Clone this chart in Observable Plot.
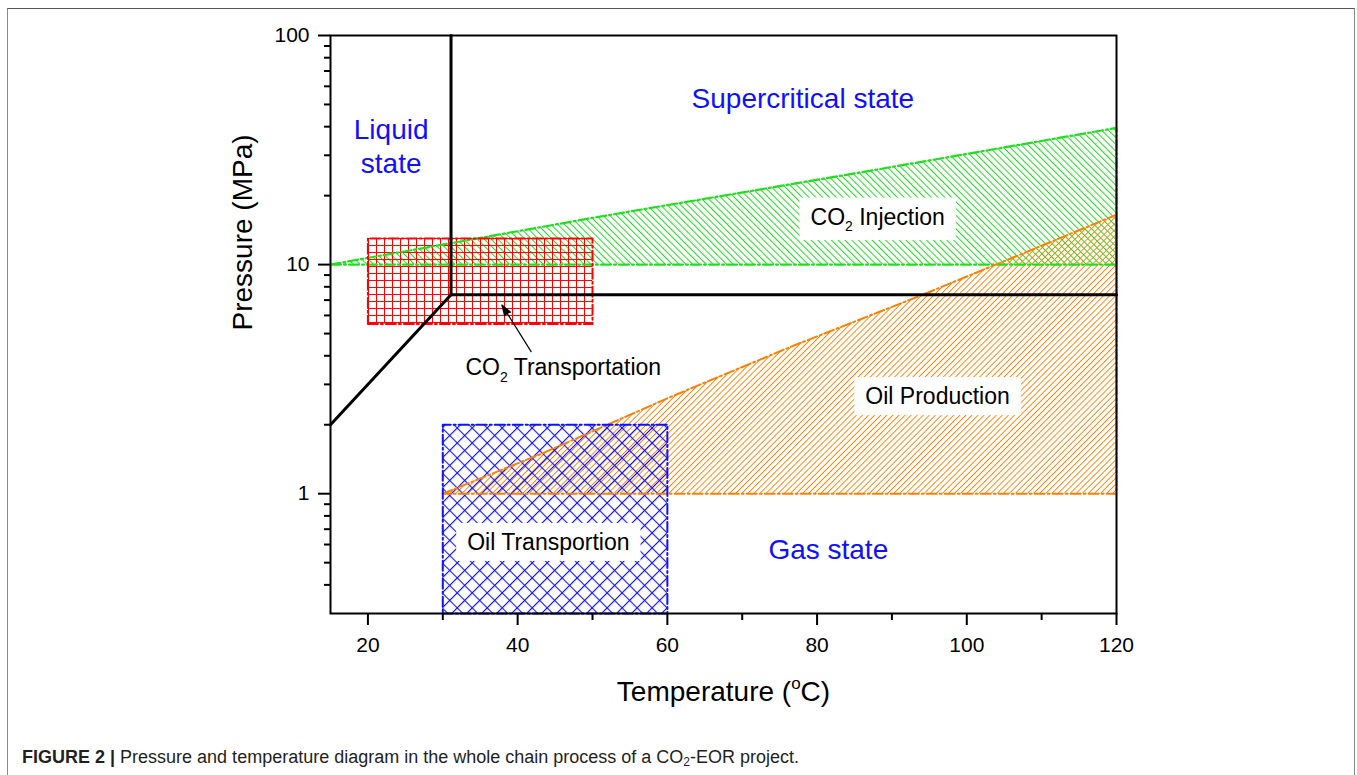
<!DOCTYPE html>
<html>
<head>
<meta charset="utf-8">
<script src="https://cdn.jsdelivr.net/npm/d3@7"></script>
<script src="https://cdn.jsdelivr.net/npm/@observablehq/plot@0.6"></script>
<style>
  html, body { margin: 0; padding: 0; background: #fff; overflow: hidden; }
  #fig { position: relative; width: 1357px; height: 775px; }
  #border { position: absolute; left: 7px; top: 8px; width: 1348px; height: 800px; border: 1px solid #8a8a8a; border-top-color: #555; box-sizing: border-box; }
  #chart { position: absolute; left: 0; top: 0; }
  #caption { position: absolute; left: 22px; top: 747px; white-space: nowrap; line-height: 20px;
    font-family: "Liberation Sans Narrow", "Arial Narrow", "Liberation Sans", Arial, sans-serif; font-size: 18px; color: #231f20; }
  #caption sub { font-size: 12px; vertical-align: -3px; line-height: 0; }
</style>
</head>
<body>
<div id="fig">
  <div id="border"></div>
  <div id="chart"></div>
  <div id="caption"><b>FIGURE 2 |</b> Pressure and temperature diagram in the whole chain process of a CO<sub>2</sub>-EOR project.</div>
</div>
<script>
// ---------- data ----------
const tempDomain = [15, 120];
const pressureDomain = [0.3, 100];
const xMajorTicks = [20, 40, 60, 80, 100, 120];
const xMinorTicks = [30, 50, 70, 90, 110];
const yMajorTicks = [1, 10, 100];
const yMinorTicks = [0.4, 0.5, 0.6, 0.7, 0.8, 0.9, 2, 3, 4, 5, 6, 7, 8, 9, 20, 30, 40, 50, 60, 70, 80, 90];

// CO2 injection band (green hatched)
const injT      = [15, 51, 85, 120];
const injTop    = [10, 16.2, 25, 39.5];
const injBottom = [10, 10, 10, 10];

// Oil production band (orange hatched)
const prodT      = [30, 43.3, 60.5, 76.5, 93.4, 103.2, 120];
const prodTop    = [1, 1.5, 2.65, 4.38, 7.23, 9.79, 16.5];
const prodBottom = [1, 1, 1, 1, 1, 1, 1];

// CO2 transportation box (red grid) and oil transportation box (blue cross-hatch)
const co2TransT = [20, 50];
const co2TransP = [5.5, 13];
const oilTransT = [30, 60];
const oilTransP = [0.3, 2];

// CO2 phase boundaries (critical point 31.1 °C, 7.38 MPa)
const vapourT = [15, 31.1];
const vapourP = [2, 7.38];
const isothermT = [31.1, 31.1];
const isothermP = [7.38, 100];
const isobarT = [31.1, 120];
const isobarP = [7.38, 7.38];

// arrow to the CO2 transportation box
const arrowFrom = [41.8, 4.17];
const arrowTo   = [37.9, 6.66];

// region labels
const stateLabels = ["Supercritical state", "Liquid\nstate", "Gas state"];
const stateT = [78.1, 23.1, 81.5];
const stateP = [53.7, 33.2, 0.576];

const boxedLabels = ["CO2 Injection", "Oil Production", "Oil Transportion"];
const boxedT = [88.1, 96.1, 44.1];
const boxedP = [16.1, 2.65, 0.612];

const plainLabels = ["CO2 Transportation"];
const plainT = [46.1];
const plainP = [3.54];

const xTitle = "Temperature (°C)";
const yTitle = "Pressure (MPa)";

// ---------- build tables ----------
const injData = injT.map((t, i) => ({t, lo: injBottom[i], hi: injTop[i]}));
const prodData = prodT.map((t, i) => ({t, lo: prodBottom[i], hi: prodTop[i]}));
const outline = (T, top, bottom) => [
  ...T.map((t, i) => ({t, p: top[i]})),
  ...T.map((t, i) => ({t, p: bottom[i]})).reverse()
];
const injOutline = outline(injT, injTop, injBottom);
const prodOutline = outline(prodT, prodTop, prodBottom);
const boxOutline = (T, P) => [
  {t: T[0], p: P[0]}, {t: T[1], p: P[0]}, {t: T[1], p: P[1]}, {t: T[0], p: P[1]}, {t: T[0], p: P[0]}
];
const phaseLines = [
  ...vapourT.map((t, i) => ({seg: "v", t, p: vapourP[i]})),
  ...isothermT.map((t, i) => ({seg: "t", t, p: isothermP[i]})),
  ...isobarT.map((t, i) => ({seg: "b", t, p: isobarP[i]}))
];
const stateData = stateLabels.map((s, i) => ({s, t: stateT[i], p: stateP[i]}));
const boxedData = boxedLabels.map((s, i) => ({s, t: boxedT[i], p: boxedP[i]}));
const plainData = plainLabels.map((s, i) => ({s, t: plainT[i], p: plainP[i]}));

const GREEN = "#22dd22", ORANGE = "#ff8000", RED = "#ff0000", BLUE = "#1010ff";
const FONT = "Arial, 'Liberation Sans', Helvetica, sans-serif";
const dash = "10,3,2,3";

const svg = Plot.plot({
  width: 1357,
  height: 740,
  marginLeft: 330,
  marginRight: 241,
  marginTop: 35,
  marginBottom: 127,
  style: {fontFamily: FONT, fontSize: "21px", color: "black", background: "transparent", overflow: "visible"},
  x: {domain: tempDomain},
  y: {type: "log", domain: pressureDomain},
  marks: [
    Plot.areaY(injData, {x: "t", y1: "lo", y2: "hi", fill: "url(#ptnGreen)"}),
    Plot.areaY(prodData, {x: "t", y1: "lo", y2: "hi", fill: "url(#ptnOrange)"}),
    Plot.rect([0], {x1: () => co2TransT[0], x2: () => co2TransT[1], y1: () => co2TransP[0], y2: () => co2TransP[1], fill: "url(#ptnRed)"}),
    Plot.rect([0], {x1: () => oilTransT[0], x2: () => oilTransT[1], y1: () => oilTransP[0], y2: () => oilTransP[1], fill: "url(#ptnBlue)"}),
    Plot.line(injOutline, {x: "t", y: "p", stroke: GREEN, strokeWidth: 2.2, strokeDasharray: dash}),
    Plot.line(prodOutline, {x: "t", y: "p", stroke: ORANGE, strokeWidth: 2, strokeDasharray: dash}),
    Plot.line(boxOutline(co2TransT, co2TransP), {x: "t", y: "p", stroke: RED, strokeWidth: 2, strokeDasharray: dash}),
    Plot.line(boxOutline(oilTransT, oilTransP), {x: "t", y: "p", stroke: BLUE, strokeWidth: 2, strokeDasharray: dash}),
    Plot.line(phaseLines, {x: "t", y: "p", z: "seg", stroke: "black", strokeWidth: 3}),
    Plot.arrow([0], {x1: () => arrowFrom[0], y1: () => arrowFrom[1], x2: () => arrowTo[0], y2: () => arrowTo[1],
      stroke: "black", strokeWidth: 1.2, headLength: 14, headAngle: 36, ariaLabel: () => "pointer"}),
    Plot.text(stateData, {x: "t", y: "p", text: "s", fill: BLUE, fontSize: 28, lineHeight: 1.2, fontFamily: FONT}),
    Plot.text(boxedData, {x: "t", y: "p", text: "s", fill: "black", fontSize: 23, fontFamily: FONT}),
    Plot.text(plainData, {x: "t", y: "p", text: "s", fill: "black", fontSize: 23, fontFamily: FONT}),
    Plot.frame({stroke: "black", strokeWidth: 2}),
    Plot.axisX({ticks: xMajorTicks, tickSize: 12, tickPadding: 12, strokeWidth: 2, fontSize: 21, tickFormat: d => String(d), label: null}),
    Plot.axisX({ticks: xMinorTicks, tickSize: 7, strokeWidth: 2, tickFormat: () => "", label: null}),
    Plot.axisY({ticks: yMajorTicks, tickSize: 12, tickPadding: 9, strokeWidth: 2, fontSize: 21, tickFormat: d => String(d), label: null}),
    Plot.axisY({ticks: yMinorTicks, tickSize: 6, strokeWidth: 2, tickFormat: () => "", label: null}),
    Plot.text([xTitle], {frameAnchor: "bottom", dy: 87, fontSize: 28, fontFamily: FONT}),
    Plot.text([yTitle], {frameAnchor: "left", dx: -87, dy: 6, rotate: -90, fontSize: 28, fontFamily: FONT})
  ]
});

document.getElementById("chart").appendChild(svg);

// filled arrow head (the straight shaft sub-path encloses no area)
svg.querySelectorAll('g[aria-label="arrow"] path').forEach(p => p.setAttribute("fill", "black"));

// ---------- patterns ----------
const NS = "http://www.w3.org/2000/svg";
const defs = document.createElementNS(NS, "defs");
svg.insertBefore(defs, svg.firstChild);
function stripes(id, gap, angle, color, w) {
  const p = document.createElementNS(NS, "pattern");
  p.setAttribute("id", id);
  p.setAttribute("patternUnits", "userSpaceOnUse");
  p.setAttribute("width", gap);
  p.setAttribute("height", 20);
  p.setAttribute("patternTransform", `rotate(${angle})`);
  const r = document.createElementNS(NS, "rect");
  r.setAttribute("x", 0); r.setAttribute("y", 0);
  r.setAttribute("width", w); r.setAttribute("height", 20);
  r.setAttribute("fill", color);
  p.appendChild(r);
  defs.appendChild(p);
}
function crossPattern(id, gap, color, w) {
  const p = document.createElementNS(NS, "pattern");
  p.setAttribute("id", id);
  p.setAttribute("patternUnits", "userSpaceOnUse");
  p.setAttribute("width", gap);
  p.setAttribute("height", gap);
  p.setAttribute("patternTransform", "rotate(45)");
  const a = document.createElementNS(NS, "rect");
  a.setAttribute("x", 0); a.setAttribute("y", 0); a.setAttribute("width", w); a.setAttribute("height", gap); a.setAttribute("fill", color);
  const b = document.createElementNS(NS, "rect");
  b.setAttribute("x", 0); b.setAttribute("y", 0); b.setAttribute("width", gap); b.setAttribute("height", w); b.setAttribute("fill", color);
  p.appendChild(a); p.appendChild(b);
  defs.appendChild(p);
}
function gridPattern(id, gw, gh, color, w) {
  const p = document.createElementNS(NS, "pattern");
  p.setAttribute("id", id);
  p.setAttribute("patternUnits", "userSpaceOnUse");
  p.setAttribute("width", gw);
  p.setAttribute("height", gh);
  const a = document.createElementNS(NS, "rect");
  a.setAttribute("x", 0); a.setAttribute("y", 0); a.setAttribute("width", w); a.setAttribute("height", gh); a.setAttribute("fill", color);
  const b = document.createElementNS(NS, "rect");
  b.setAttribute("x", 0); b.setAttribute("y", 0); b.setAttribute("width", gw); b.setAttribute("height", w); b.setAttribute("fill", color);
  p.appendChild(a); p.appendChild(b);
  defs.appendChild(p);
}
stripes("ptnGreen", 4.8, -45, GREEN, 1);     // "\" hatch
stripes("ptnOrange", 4.3, 45, ORANGE, 0.9);  // "/" hatch
gridPattern("ptnRed", 8, 7, RED, 1);         // square grid
crossPattern("ptnBlue", 10.6, BLUE, 1.1);    // diagonal cross-hatch

// ---------- rich text (subscript / superscript) ----------
function rich(el, parts, base) {
  while (el.firstChild) el.removeChild(el.firstChild);
  let shift = 0;
  for (const [s, kind] of parts) {
    const ts = document.createElementNS(NS, "tspan");
    const target = kind === "sub" ? base * 0.28 : kind === "sup" ? -base * 0.42 : 0;
    ts.setAttribute("dy", target - shift);
    shift = target;
    if (kind) ts.setAttribute("font-size", Math.round(base * 0.6));
    ts.textContent = s;
    el.appendChild(ts);
  }
}
const boxedEls = [];
svg.querySelectorAll("text").forEach(el => {
  const s = el.textContent;
  if (boxedLabels.includes(s)) boxedEls.push(el);
  const fs = parseFloat(el.getAttribute("font-size") || el.parentNode.getAttribute("font-size") || 23);
  if (s.startsWith("CO2")) {
    rich(el, [["CO", null], ["2", "sub"], [s.slice(3), null]], fs);
  } else if (s.includes("°C")) {
    const i = s.indexOf("°");
    rich(el, [[s.slice(0, i), null], ["o", "sup"], [s.slice(i + 1), null]], fs);
  }
});

// ---------- white boxes behind the boxed labels ----------
boxedEls.forEach(el => {
  const b = el.getBBox();
  const r = document.createElementNS(NS, "rect");
  const padX = 11, padY = 6;
  r.setAttribute("x", b.x - padX);
  r.setAttribute("y", b.y - padY);
  r.setAttribute("width", b.width + 2 * padX);
  r.setAttribute("height", b.height + 2 * padY);
  r.setAttribute("fill", "white");
  if (el.getAttribute("transform")) r.setAttribute("transform", el.getAttribute("transform"));
  el.parentNode.insertBefore(r, el);
});
</script>
</body>
</html>
